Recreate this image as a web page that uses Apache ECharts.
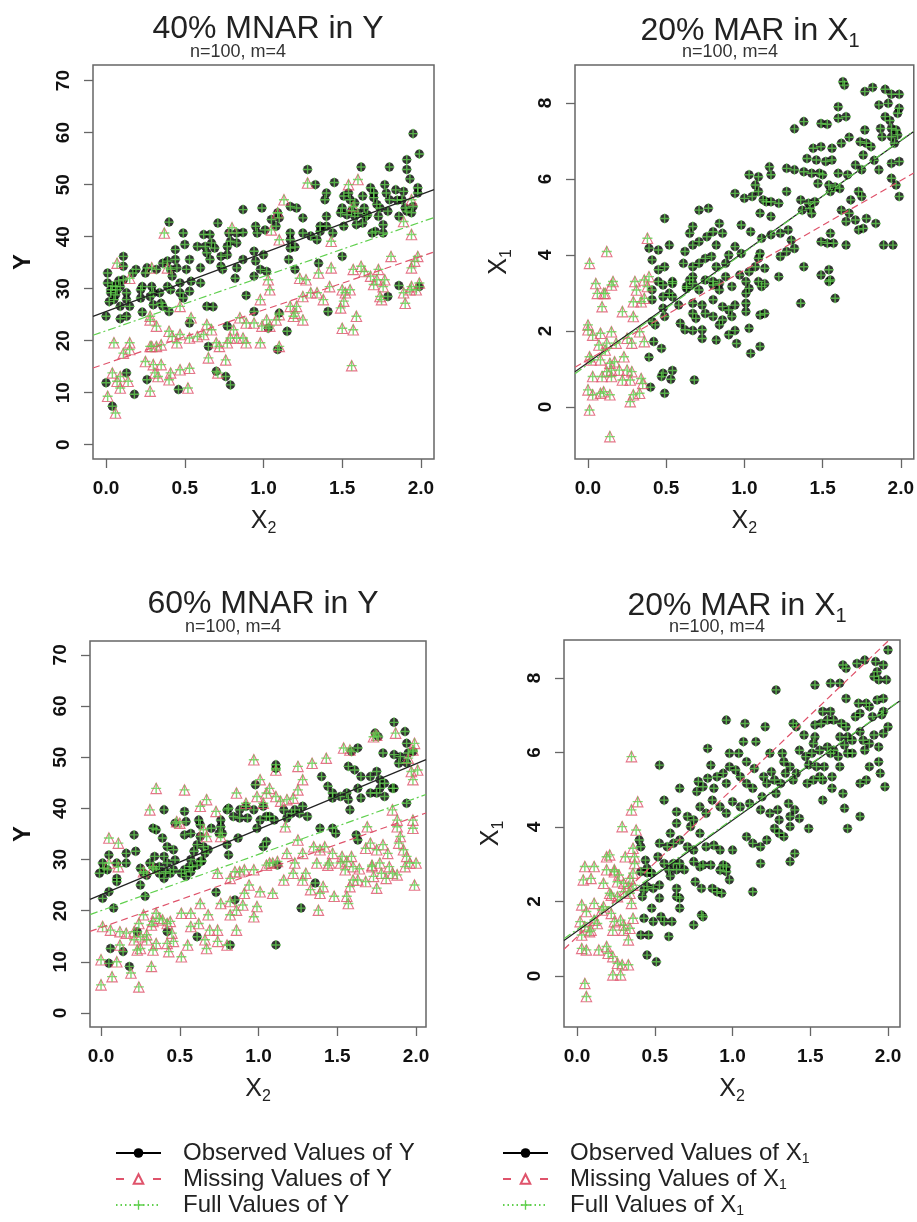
<!DOCTYPE html>
<html><head><meta charset="utf-8">
<script src="https://cdn.jsdelivr.net/npm/echarts@6/dist/echarts.min.js"></script>
<style>html,body{margin:0;padding:0;background:#fff}#c{width:917px;height:1222px}</style>
</head><body><div id="c"></div>
<script>
// ---------------- data ----------------
const panelTitles = ['40% MNAR in Y', '20% MAR in X', '60% MNAR in Y', '20% MAR in X'];
const panelSubtitle = 'n=100, m=4';
const xTicks = [0, 0.5, 1, 1.5, 2];
const yTicksY = [0, 10, 20, 30, 40, 50, 60, 70];
const yTicksX1 = [0, 2, 4, 6, 8];
const legendY = ['Observed Values of Y', 'Missing Values of Y', 'Full Values of Y'];
const legendX1 = ['Observed Values of X1', 'Missing Values of X1', 'Full Values of X1'];

// regression lines [intercept, slope]
const fitObs  = [[25.6, 11.25], [1.17, 2.92], [23.1, 12.8], [1.20, 2.98]];
const fitMis  = [[15.6, 10.3],  [1.24, 2.36], [16.7, 10.85], [1.05, 3.97]];
const fitFull = [[21.9, 10.45], [1.12, 2.95], [20.0, 11.0], [1.25, 2.96]];

const obs1 = [[1.95,59.8],[1.99,55.9],[1.91,54.8],[1.62,53.4],[1.28,52.9],[1.80,53.4],[1.91,52.9],[1.93,51.1],[1.45,50.4],[1.33,50.0],[1.40,48.4],[1.39,47.1],[1.54,48.4],[1.55,47.1],[1.68,49.4],[1.77,50.0],[1.78,48.4],[1.84,49.0],[1.89,48.7],[1.98,49.4],[1.95,45.8],[1.94,44.6],[1.63,47.8],[1.64,45.5],[1.65,43.9],[1.63,42.6],[1.72,46.2],[1.74,45.5],[1.73,43.9],[1.76,42.3],[1.71,41.0],[1.76,40.7],[1.86,43.9],[1.90,45.5],[1.40,43.9],[1.49,44.6],[1.53,44.2],[1.58,43.9],[1.40,42.0],[1.25,43.6],[1.17,45.8],[1.21,45.5],[0.99,45.5],[0.87,45.2],[1.09,44.6],[1.10,43.6],[1.05,43.3],[0.95,42.0],[0.96,40.7],[1.01,41.3],[0.87,40.8],[0.83,40.7],[0.79,39.1],[0.77,38.1],[0.71,42.6],[0.62,40.4],[0.66,40.4],[0.49,40.7],[0.40,42.8],[0.44,37.5],[0.50,38.5],[0.63,38.1],[0.69,37.8],[0.64,36.9],[0.53,35.6],[0.60,34.0],[0.51,33.7],[0.73,36.2],[0.77,36.5],[0.74,33.7],[0.82,32.0],[0.83,34.0],[0.87,35.6],[0.94,37.2],[0.95,35.3],[1.00,36.5],[0.98,33.7],[0.94,32.4],[1.17,39.4],[1.25,40.7],[1.30,40.1],[1.34,39.4],[1.17,37.8],[1.20,33.7],[1.16,35.6],[1.02,33.3],[1.35,34.9],[1.50,36.2],[1.36,41.0],[0.11,36.2],[0.11,34.3],[0.17,33.0],[0.26,34.0],[0.32,33.7],[0.39,35.3],[0.41,33.7],[0.45,34.0],[0.01,33.0],[0.01,31.1],[0.03,29.2],[0.07,29.8],[0.05,27.9],[0.09,30.4],[0.11,31.7],[0.13,29.2],[0.09,26.6],[0.15,26.6],[0.23,30.4],[0.29,30.4],[0.22,28.2],[0.28,28.5],[0.34,29.2],[0.41,29.8],[0.35,27.2],[0.47,31.1],[0.49,28.2],[0.53,29.5],[0.60,31.1],[0.00,24.7],[0.09,24.2],[0.13,24.7],[0.23,25.5],[0.30,26.9],[0.36,26.6],[0.40,25.6],[0.68,26.5],[0.53,23.4],[0.89,28.7],[0.00,11.9],[0.04,7.4],[0.13,13.8],[0.18,9.7],[0.26,12.5],[0.46,10.6],[0.65,18.9],[0.70,14.1],[0.76,13.1],[0.79,11.5],[0.94,25.6],[1.03,22.4],[1.10,25.3],[1.15,21.8],[1.09,18.3],[1.41,25.6],[1.86,30.6],[1.79,28.5],[1.99,30.4],[0.77,22.8],[0.64,26.6],[0.04,30.5],[0.06,28.8],[0.08,31.5],[0.02,27.5],[1.56,45.0],[1.58,46.5],[1.60,44.5],[1.20,38.0],[1.70,47.5],[1.85,47.0],[1.51,47.8],[1.50,45.5],[1.70,48.4],[1.80,47.1],[1.79,44.9],[1.88,47.1],[1.98,48.4],[1.91,44.9],[1.66,44.2],[1.69,40.7],[1.59,42.3],[1.51,42.0],[1.44,40.7],[1.36,42.0],[1.17,40.7],[1.08,42.0],[0.83,38.8],[0.78,40.7],[0.67,38.8],[0.58,38.1],[0.44,35.6],[0.36,34.9],[0.25,33.0],[0.19,33.7],[0.06,30.4],[0.03,29.8],[0.13,27.9],[0.22,29.8],[0.30,29.2],[0.42,32.4],[0.47,29.2],[0.39,30.4],[0.54,31.4],[0.66,35.6],[0.73,34.3]];
const mis1 = [[1.28,50.3],[1.60,51.0],[1.54,50.0],[1.13,47.1],[1.57,45.8],[1.94,47.1],[0.80,41.7],[0.37,40.7],[1.09,44.6],[1.05,41.3],[1.10,39.4],[1.43,39.1],[1.89,42.9],[1.94,40.4],[1.98,36.2],[1.96,35.3],[1.81,36.2],[1.94,34.0],[1.57,33.7],[1.62,34.3],[1.64,33.3],[1.73,33.7],[1.72,31.7],[1.76,30.4],[1.70,30.8],[1.74,28.5],[1.75,27.9],[1.89,29.2],[1.90,27.2],[1.94,30.4],[1.97,29.8],[1.99,31.1],[1.35,33.0],[1.43,34.0],[1.50,22.4],[1.57,22.1],[1.56,15.2],[1.59,24.7],[1.49,26.3],[1.38,27.9],[1.30,29.2],[1.25,28.5],[1.21,26.6],[1.20,25.3],[1.17,26.6],[1.08,24.0],[1.04,22.8],[1.02,24.0],[0.99,22.8],[0.94,23.4],[0.89,23.4],[0.85,24.4],[1.52,29.2],[1.50,29.8],[1.55,29.8],[1.51,27.6],[1.23,32.0],[1.27,31.7],[1.03,31.7],[1.04,29.8],[0.98,27.9],[1.10,25.0],[0.98,19.6],[1.10,18.9],[0.81,22.1],[0.83,20.5],[0.87,20.5],[0.77,19.6],[0.72,18.9],[0.70,19.6],[0.64,23.1],[0.62,21.2],[0.58,20.8],[0.53,20.5],[0.47,21.2],[0.42,20.8],[0.35,19.2],[0.32,18.9],[0.28,18.9],[0.45,19.6],[0.40,21.8],[0.32,22.8],[0.28,24.0],[0.54,24.4],[0.47,26.6],[0.15,32.0],[0.07,34.9],[0.29,34.0],[0.39,34.0],[0.05,19.6],[0.15,19.6],[0.11,17.6],[0.29,18.9],[0.04,13.8],[0.09,13.1],[0.07,12.2],[0.14,12.2],[0.09,10.9],[0.01,9.3],[0.06,6.1],[0.25,16.0],[0.30,15.4],[0.35,15.4],[0.41,13.8],[0.47,14.4],[0.53,14.7],[0.31,13.8],[0.33,13.1],[0.28,10.3],[0.52,10.9],[0.40,12.5],[0.65,16.7],[0.76,16.3],[0.71,13.8],[0.28,24.7],[0.15,18.3],[0.67,22.1],[0.79,20.5],[0.89,19.6],[1.19,24.7],[1.25,24.0],[1.34,29.2],[1.42,30.4],[1.68,32.4],[1.77,31.7],[1.93,29.8]];

const obs2 = [[1.63,8.56],[1.64,8.47],[1.77,8.30],[1.82,8.41],[1.90,8.36],[1.94,8.23],[1.99,8.23],[1.86,7.95],[1.92,7.99],[1.99,7.86],[1.98,7.73],[1.90,7.64],[1.93,7.54],[1.60,7.90],[1.60,7.60],[1.65,7.64],[1.67,7.10],[1.77,7.29],[1.38,7.51],[1.32,7.32],[1.49,7.46],[1.53,7.44],[1.87,7.33],[1.94,7.33],[1.97,7.29],[1.88,7.11],[1.94,7.11],[1.96,6.94],[1.98,7.16],[1.44,6.81],[1.49,6.85],[1.56,6.81],[1.62,6.94],[1.74,6.98],[1.78,6.94],[1.81,6.85],[1.83,6.49],[1.76,6.63],[1.71,6.37],[1.75,6.24],[1.86,6.24],[1.94,6.02],[1.97,5.84],[1.99,5.54],[1.94,6.41],[1.99,6.46],[1.40,6.54],[1.46,6.50],[1.52,6.46],[1.56,6.50],[1.50,6.11],[1.54,5.84],[1.60,6.15],[1.66,6.11],[1.58,5.79],[1.47,5.88],[1.55,5.67],[1.61,5.75],[1.27,6.28],[1.32,6.24],[1.38,6.19],[1.43,6.15],[1.48,6.15],[1.16,6.32],[1.17,6.11],[1.03,6.11],[1.09,6.06],[1.07,5.84],[1.09,5.67],[1.12,5.45],[0.94,5.62],[1.00,5.49],[1.05,5.54],[1.14,5.40],[1.17,5.40],[1.22,5.36],[1.27,5.67],[1.36,5.45],[1.41,5.36],[1.45,5.40],[1.37,5.18],[1.42,5.23],[1.43,5.09],[1.62,5.18],[1.68,5.45],[1.73,5.67],[1.75,5.54],[1.67,5.10],[1.71,4.92],[1.78,4.96],[1.76,4.70],[1.65,4.88],[1.73,4.66],[1.84,4.83],[1.89,4.26],[1.95,4.26],[0.71,5.18],[0.77,5.23],[0.84,4.83],[0.80,4.61],[0.76,4.48],[0.86,4.57],[0.67,4.75],[0.65,4.57],[0.71,4.35],[0.82,4.26],[0.67,4.26],[0.49,4.96],[0.98,4.79],[1.04,4.61],[1.10,5.10],[1.17,5.01],[1.11,4.44],[1.17,4.53],[1.23,4.57],[1.28,4.66],[1.30,4.39],[1.27,4.09],[1.23,3.96],[1.32,4.17],[1.49,4.35],[1.53,4.31],[1.57,4.31],[1.65,4.26],[1.55,4.57],[1.38,3.69],[1.49,3.47],[1.54,3.61],[1.55,3.34],[1.58,2.86],[0.39,4.18],[0.45,4.13],[0.52,4.26],[0.62,4.09],[0.75,3.91],[0.79,3.96],[0.90,4.00],[0.94,4.22],[0.98,4.04],[1.09,3.91],[1.10,4.04],[0.41,3.87],[0.45,3.61],[0.49,3.69],[0.61,3.78],[0.67,3.69],[0.71,3.78],[0.82,3.69],[0.88,3.78],[1.03,3.56],[1.07,3.69],[1.13,3.65],[1.22,3.43],[0.45,3.30],[0.54,3.30],[0.65,3.34],[0.67,3.43],[0.75,3.34],[0.80,3.30],[0.88,3.43],[0.97,3.47],[1.01,3.30],[1.09,3.30],[1.11,3.17],[0.41,3.08],[0.52,2.99],[0.63,3.12],[0.71,3.08],[0.84,3.08],[0.92,3.17],[1.01,2.99],[0.48,3.21],[0.54,3.25],[0.63,3.17],[0.67,3.25],[0.80,3.21],[0.84,3.25],[1.13,3.24],[1.54,3.30],[1.36,2.73],[0.41,2.82],[0.48,2.90],[0.54,2.90],[0.58,2.68],[0.67,2.73],[0.73,2.68],[0.80,2.82],[0.86,2.64],[0.90,2.55],[0.94,2.68],[1.01,2.73],[1.03,3.12],[1.01,2.51],[0.48,2.60],[0.49,2.38],[0.41,2.25],[0.43,2.16],[0.59,2.20],[0.67,2.46],[0.75,2.46],[0.80,2.38],[0.86,2.29],[0.92,2.38],[0.84,2.16],[0.69,2.33],[0.62,2.03],[0.67,2.01],[0.73,2.03],[0.82,1.76],[0.73,1.80],[0.90,1.90],[0.94,2.01],[1.03,2.07],[1.10,2.42],[1.13,2.46],[0.95,1.67],[1.04,1.41],[1.10,1.59],[0.42,1.72],[0.47,1.54],[0.39,1.31],[0.48,0.89],[0.54,0.96],[0.47,0.80],[0.53,0.73],[0.68,0.71],[0.40,0.52],[0.49,0.36]];
const mis2 = [[0.01,3.78],[0.12,4.09],[0.38,4.44],[0.05,3.25],[0.15,3.21],[0.16,3.30],[0.30,3.30],[0.36,3.34],[0.39,3.43],[0.10,2.99],[0.31,3.08],[0.38,3.17],[0.06,2.99],[0.11,2.99],[0.09,2.64],[0.22,2.51],[0.29,2.77],[0.34,2.77],[0.36,2.86],[0.29,2.38],[0.00,2.16],[0.00,2.03],[0.03,1.89],[0.08,1.94],[0.15,1.98],[0.12,1.68],[0.07,1.63],[0.11,1.50],[0.18,1.68],[0.23,1.32],[0.33,1.98],[0.36,1.72],[0.25,1.81],[0.28,1.68],[0.01,1.32],[0.02,1.24],[0.08,1.24],[0.14,1.15],[0.17,1.19],[0.12,0.93],[0.15,0.97],[0.20,0.97],[0.25,0.97],[0.28,0.93],[0.03,0.80],[0.09,0.80],[0.15,0.80],[0.22,0.71],[0.27,0.71],[0.34,0.75],[0.35,0.62],[0.00,0.45],[0.03,0.32],[0.08,0.36],[0.10,0.40],[0.14,0.32],[0.29,0.32],[0.33,0.36],[0.27,0.14],[0.01,-0.08],[0.14,-0.78]];

const obs3 = [[1.86,56.8],[1.93,55.0],[1.94,52.7],[1.74,54.7],[1.76,54.0],[1.79,50.8],[1.86,50.5],[1.90,50.1],[1.95,50.8],[1.98,51.1],[1.89,48.8],[1.94,48.9],[1.59,51.1],[1.63,51.8],[1.57,48.2],[1.61,47.5],[1.65,46.2],[1.71,46.2],[1.75,47.2],[1.77,45.6],[1.80,44.9],[1.77,43.9],[1.80,42.3],[1.85,43.9],[1.75,43.0],[1.71,43.0],[1.63,43.9],[1.65,42.0],[1.40,46.2],[1.44,44.3],[1.47,43.0],[1.47,42.0],[1.56,43.0],[1.57,41.7],[1.58,39.7],[1.52,42.3],[1.94,41.0],[1.86,43.9],[1.62,34.8],[1.63,33.8],[1.47,36.1],[1.49,35.1],[1.39,36.1],[1.11,48.5],[1.11,47.8],[1.28,40.4],[1.26,39.0],[1.21,39.0],[1.16,39.7],[1.18,38.1],[1.23,39.7],[1.31,38.4],[1.10,37.7],[1.07,38.4],[0.98,44.6],[0.92,40.4],[0.97,39.7],[1.03,40.4],[1.05,38.4],[1.01,37.7],[0.99,36.1],[0.93,38.1],[0.88,38.1],[0.88,39.7],[1.05,33.5],[1.03,32.5],[0.80,39.7],[0.84,38.4],[0.87,34.2],[0.81,40.0],[0.76,37.7],[0.76,36.4],[0.75,35.1],[0.77,35.1],[0.80,32.9],[0.81,30.9],[0.70,36.1],[0.62,37.7],[0.63,36.8],[0.54,37.4],[0.57,35.1],[0.61,32.9],[0.63,34.5],[0.65,32.5],[0.66,31.2],[0.68,31.9],[0.59,31.6],[0.57,30.0],[0.64,29.7],[0.58,28.6],[0.53,28.0],[0.54,26.7],[0.51,27.3],[0.46,31.9],[0.47,29.9],[0.53,34.8],[0.53,39.4],[0.47,37.1],[0.40,39.7],[0.33,36.1],[0.35,35.8],[0.39,34.2],[0.42,32.5],[0.40,30.6],[0.34,30.6],[0.31,29.3],[0.42,29.3],[0.35,28.0],[0.37,27.3],[0.44,27.3],[0.46,28.0],[0.40,26.3],[0.21,34.8],[0.16,31.2],[0.22,31.6],[0.10,29.3],[0.05,30.9],[0.01,29.3],[0.04,28.0],[-0.01,27.3],[0.02,28.3],[0.16,29.3],[0.10,26.3],[0.10,25.7],[0.25,28.3],[0.27,27.3],[0.29,26.9],[0.33,28.6],[0.37,28.6],[0.41,27.6],[0.56,28.6],[0.57,27.6],[0.61,28.9],[0.63,29.6],[0.01,22.4],[0.05,23.7],[0.08,20.5],[0.25,25.0],[0.28,22.8],[0.85,22.1],[0.73,23.6],[1.12,28.9],[1.36,25.4],[1.11,13.3],[1.27,20.5],[0.23,15.9],[0.42,15.9],[0.61,14.9],[0.82,13.3],[0.14,12.0],[0.06,12.6],[0.05,9.7],[0.18,9.1]];
const mis3 = [[1.87,54.7],[1.75,54.3],[1.73,54.0],[1.54,51.8],[1.58,51.4],[0.97,49.5],[1.11,47.5],[1.34,48.8],[1.43,49.8],[1.99,52.7],[1.98,51.4],[1.95,49.8],[1.97,47.2],[1.98,45.6],[2.01,47.5],[0.35,43.9],[0.53,43.6],[0.67,41.7],[0.31,39.7],[0.48,37.4],[0.50,37.1],[0.63,40.4],[0.73,39.4],[0.65,35.8],[0.67,34.5],[0.76,34.5],[0.05,34.2],[0.11,33.2],[0.11,28.6],[0.05,29.3],[0.86,43.0],[0.92,41.0],[1.03,41.0],[1.05,43.0],[0.99,42.3],[1.01,45.6],[1.07,43.9],[1.11,42.3],[1.14,41.4],[1.18,41.7],[1.25,43.6],[1.22,42.0],[1.28,45.6],[1.17,36.4],[1.25,33.8],[1.18,31.2],[1.28,31.2],[1.35,32.5],[1.39,31.9],[1.42,32.5],[1.47,31.2],[1.45,29.3],[1.53,30.6],[1.56,29.6],[1.59,30.6],[1.60,28.6],[1.55,28.0],[1.64,28.2],[1.69,36.4],[1.71,33.2],[1.68,32.2],[1.75,31.9],[1.79,32.9],[1.82,31.2],[1.85,39.7],[1.88,37.7],[1.88,36.4],[1.90,34.5],[1.89,33.2],[1.92,31.9],[1.94,30.6],[1.98,37.7],[1.98,36.1],[2.00,29.3],[1.96,29.3],[1.93,28.6],[1.83,28.6],[1.77,29.3],[1.72,28.6],[1.25,48.2],[0.88,27.6],[0.97,28.0],[1.05,28.9],[1.09,29.3],[0.82,26.3],[0.27,27.6],[0.33,28.3],[0.74,27.3],[0.85,27.6],[0.91,28.0],[1.07,29.3],[1.12,29.6],[1.23,29.3],[1.30,27.3],[1.37,29.3],[1.44,28.9],[1.52,29.3],[1.60,26.0],[1.63,26.0],[1.68,25.7],[1.72,28.9],[1.73,26.7],[1.78,27.3],[1.81,26.3],[1.85,27.3],[1.88,27.0],[1.99,25.0],[1.75,24.4],[1.58,24.7],[1.48,22.8],[1.41,24.7],[1.33,24.1],[1.39,23.4],[1.28,26.0],[1.22,27.3],[1.16,26.0],[1.09,23.4],[1.01,23.7],[0.94,25.0],[0.99,20.8],[0.90,21.1],[0.82,21.8],[0.76,21.4],[0.82,19.2],[0.86,20.1],[0.86,16.2],[0.97,18.8],[0.91,23.4],[1.57,21.4],[1.56,22.8],[1.38,20.1],[0.01,16.9],[0.06,16.2],[0.12,15.9],[0.16,15.6],[0.21,15.9],[0.25,14.9],[0.29,15.3],[0.33,17.9],[0.37,18.5],[0.42,17.5],[0.27,19.2],[0.35,19.5],[0.24,17.5],[0.32,17.2],[0.44,17.9],[0.51,19.5],[0.57,16.9],[0.62,17.5],[0.63,21.4],[0.57,19.5],[0.69,16.2],[0.66,14.3],[0.55,13.3],[0.67,12.6],[0.74,14.0],[0.80,13.3],[0.68,19.2],[0.74,16.2],[0.42,13.6],[0.46,14.0],[0.43,12.0],[0.33,12.3],[0.25,12.6],[0.23,12.3],[0.21,14.3],[0.29,14.3],[0.12,13.3],[0.10,10.0],[0.00,10.4],[0.00,5.5],[0.07,7.1],[0.19,7.8],[0.24,5.1],[0.32,9.1],[0.51,11.0],[0.35,13.6],[0.39,18.2],[0.45,15.6]];

const obs4 = [[2.00,8.75],[1.71,8.35],[1.73,8.26],[1.80,8.39],[1.85,8.48],[1.92,8.44],[1.93,8.17],[1.97,8.35],[1.91,8.04],[1.94,7.95],[1.99,7.95],[1.53,7.81],[1.63,7.86],[1.69,7.86],[1.28,7.68],[1.73,7.45],[1.81,7.32],[1.86,7.32],[1.93,7.41],[1.97,7.45],[1.97,7.10],[1.88,7.23],[1.82,7.05],[1.90,6.96],[1.96,7.01],[1.79,6.96],[2.00,6.69],[1.97,6.51],[1.91,6.47],[1.58,7.10],[1.63,7.10],[1.65,6.87],[1.70,6.78],[1.73,6.69],[1.74,6.42],[1.69,6.42],[1.72,6.20],[1.77,6.33],[1.84,6.33],[1.88,6.24],[1.94,6.15],[1.82,6.56],[1.77,5.98],[1.85,6.06],[1.94,5.75],[1.88,5.62],[1.95,5.44],[1.98,5.08],[1.86,5.26],[1.82,5.17],[1.74,5.98],[1.68,5.89],[1.63,5.98],[1.69,5.62],[1.64,5.35],[1.59,5.62],[1.58,5.26],[1.64,5.04],[1.58,4.72],[1.71,4.90],[1.74,3.96],[1.82,4.28],[1.72,4.50],[1.39,6.78],[1.41,6.69],[1.46,6.47],[1.53,6.74],[1.57,6.78],[1.61,6.87],[1.53,6.42],[1.52,6.24],[1.56,6.06],[1.61,6.15],[1.65,6.06],[1.51,5.98],[1.43,6.06],[1.47,5.89],[1.49,5.67],[1.54,5.62],[1.56,5.35],[1.52,5.26],[1.48,5.17],[1.41,5.44],[1.39,5.26],[1.37,5.62],[1.32,5.98],[1.33,5.75],[1.34,5.44],[1.31,5.17],[0.96,6.87],[1.08,6.78],[1.21,6.69],[0.84,6.11],[1.07,6.29],[1.15,6.29],[0.98,5.98],[1.04,5.98],[1.09,5.75],[1.14,5.57],[1.24,5.98],[1.20,5.35],[1.22,5.17],[1.25,5.48],[1.27,5.26],[1.28,4.90],[1.19,4.81],[1.13,5.04],[1.09,5.17],[1.05,5.35],[1.02,5.53],[0.98,5.62],[0.94,5.44],[0.90,5.35],[0.96,5.17],[0.86,5.66],[0.84,5.31],[0.88,5.04],[0.81,5.08],[0.78,5.22],[0.77,4.95],[0.66,5.04],[0.53,5.66],[0.56,4.72],[0.79,4.54],[0.83,4.37],[0.87,4.72],[0.92,4.54],[0.96,4.37],[1.00,4.68],[1.05,4.54],[1.11,4.63],[1.18,4.46],[1.24,4.37],[1.29,4.46],[1.36,4.63],[1.40,4.46],[1.37,4.28],[1.30,4.19],[1.27,3.96],[1.43,4.23],[1.49,3.96],[1.37,4.01],[1.33,3.74],[0.64,4.41],[0.71,4.28],[0.75,4.19],[0.73,4.01],[0.79,3.83],[0.64,4.10],[0.60,3.83],[0.53,3.56],[0.58,3.47],[0.62,3.56],[0.66,3.65],[0.71,3.47],[0.75,3.38],[0.83,3.47],[0.88,3.51],[0.92,3.38],[1.00,3.38],[1.09,3.74],[1.13,3.56],[1.18,3.47],[1.18,3.02],[1.37,3.07],[1.40,3.29],[1.22,3.65],[1.30,3.83],[0.40,3.65],[0.41,3.47],[0.44,3.11],[0.52,3.20],[0.56,3.02],[0.62,3.02],[0.66,3.02],[0.75,3.07],[0.79,2.93],[0.86,2.98],[0.92,2.84],[0.96,2.93],[0.60,2.68],[0.45,2.77],[0.41,2.80],[0.45,2.89],[0.48,2.76],[0.59,2.85],[0.64,2.85],[0.69,2.85],[0.81,2.98],[0.94,2.98],[0.96,2.80],[0.98,2.58],[0.45,2.40],[0.43,2.31],[0.49,2.35],[0.53,2.44],[0.64,2.35],[0.64,2.13],[0.66,2.09],[0.76,2.53],[0.80,2.35],[0.87,2.35],[0.90,2.26],[0.93,2.22],[0.48,1.82],[0.53,2.09],[0.42,2.13],[0.43,1.55],[0.49,1.46],[0.54,1.59],[0.56,1.46],[0.61,1.46],[0.66,1.82],[0.81,1.59],[0.80,1.64],[0.75,1.37],[0.41,1.10],[0.46,1.10],[0.59,1.06],[1.13,2.26],[0.45,0.56],[0.51,0.38]];
const mis4 = [[0.35,5.89],[0.39,4.68],[0.35,4.46],[0.29,4.01],[0.38,3.92],[0.36,3.43],[0.31,3.20],[0.37,3.20],[0.37,3.02],[0.21,3.25],[0.19,3.20],[0.05,2.94],[0.11,2.94],[0.19,2.85],[0.24,2.85],[0.24,2.80],[0.27,2.71],[0.04,2.58],[0.09,2.62],[0.17,2.49],[0.26,2.53],[0.30,2.49],[0.34,2.62],[0.36,2.76],[0.33,2.40],[0.36,2.44],[0.30,2.26],[0.21,2.22],[0.26,2.13],[0.22,2.17],[0.34,2.22],[0.35,1.95],[0.03,1.91],[0.11,1.95],[0.16,1.77],[0.17,1.86],[0.06,1.73],[0.02,1.46],[0.05,1.32],[0.11,1.50],[0.13,1.41],[0.09,1.23],[0.22,1.68],[0.24,1.46],[0.28,1.50],[0.30,1.37],[0.36,1.55],[0.23,1.23],[0.30,1.23],[0.34,1.28],[0.03,1.10],[0.08,1.19],[0.33,0.97],[0.03,0.74],[0.06,0.70],[0.14,0.70],[0.19,0.79],[0.20,0.61],[0.23,0.52],[0.26,0.34],[0.29,0.30],[0.33,0.30],[0.23,0.03],[0.28,0.03],[0.05,-0.20],[0.06,-0.55]];

const observed = [obs1, obs2, obs3, obs4];
const missing = [mis1, mis2, mis3, mis4];

// ---------------- layout & style ----------------
const FONT = "'Liberation Sans', Arial, sans-serif";
const C_OBS = '#000000', C_MIS = '#DF536B', C_FULL = '#61D04F', C_BOX = '#666666';
const PLUS = 'path://M4.3,0H5.7V4.3H10V5.7H5.7V10H4.3V5.7H0V4.3H4.3Z';

const grids = [
  {left: 93, top: 65, width: 341, height: 394},
  {left: 575, top: 65, width: 341, height: 394},
  {left: 90, top: 641, width: 336, height: 386},
  {left: 564, top: 640, width: 336, height: 387}
];
const xRange = [[-0.083, 2.083], [-0.083, 2.083], [-0.07, 2.063], [-0.084, 2.077]];
const yRange = [[-2.75, 73.0], [-1.37, 9.0], [-2.74, 72.7], [-1.37, 9.02]];
const titleCx = [263, 745, 258, 732], titleTop = [8, 6, 583, 581];
const subCx = [233, 725, 228, 712], subTop = [38, 38, 613, 613];
const yNameGap = [58, 60, 55, 57];

const subRich = (big, bold) => ({
  a: {fontSize: big, fontFamily: FONT, color: '#222', lineHeight: Math.round(big * 1.25), fontWeight: bold ? 'bold' : 'normal'},
  b: {fontSize: Math.round(big * 0.62), fontFamily: FONT, color: '#222', lineHeight: Math.round(big * 0.62), verticalAlign: 'bottom'}
});

const titles = [];
panelTitles.forEach((t, i) => {
  const isX = i % 2 === 1;
  titles.push({
    text: isX ? '{a|' + t + '}{b|1}' : t,
    left: titleCx[i], top: titleTop[i], textAlign: 'center',
    textStyle: {fontSize: 32, fontWeight: 'normal', fontFamily: FONT, color: '#222', rich: subRich(32)}
  });
  titles.push({
    text: panelSubtitle, left: subCx[i], top: subTop[i], textAlign: 'center',
    textStyle: {fontSize: 18, fontWeight: 'normal', fontFamily: FONT, color: '#333'}
  });
});

const xAxes = [], yAxes = [], series = [];
grids.forEach((g, i) => {
  const isX = i % 2 === 1;
  xAxes.push({
    type: 'value', gridIndex: i, min: xRange[i][0], max: xRange[i][1],
    name: '{a|X}{b|2}', nameLocation: 'middle', nameGap: 47,
    nameTextStyle: {rich: subRich(25)},
    axisLine: {show: false, onZero: false},
    splitLine: {show: false},
    axisTick: {show: true, length: 9, customValues: xTicks, lineStyle: {color: C_BOX, width: 1.3}},
    axisLabel: {customValues: xTicks, formatter: v => v.toFixed(1), fontSize: 19, fontWeight: 'bold', fontFamily: FONT, color: '#111', margin: 20}
  });
  yAxes.push({
    type: 'value', gridIndex: i, min: yRange[i][0], max: yRange[i][1],
    name: isX ? '{a|X}{b|1}' : 'Y', nameLocation: 'middle', nameGap: yNameGap[i],
    nameTextStyle: isX ? {rich: subRich(25)} : {fontSize: 24, fontWeight: 'bold', fontFamily: FONT, color: '#111'},
    axisLine: {show: false, onZero: false},
    splitLine: {show: false},
    axisTick: {show: true, length: 9, customValues: isX ? yTicksX1 : yTicksY, lineStyle: {color: C_BOX, width: 1.3}},
    axisLabel: {customValues: isX ? yTicksX1 : yTicksY, rotate: 90, fontSize: 19, fontWeight: 'bold', fontFamily: FONT, color: '#111', margin: 20}
  });

  series.push({
    type: 'scatter', xAxisIndex: i, yAxisIndex: i, data: observed[i],
    symbol: 'circle', symbolSize: 9, itemStyle: {color: C_OBS}, z: 2, silent: true
  });
  series.push({
    type: 'scatter', xAxisIndex: i, yAxisIndex: i, data: missing[i],
    symbol: 'triangle', symbolSize: 10.5,
    itemStyle: {color: 'rgba(0,0,0,0)', borderColor: C_MIS, borderWidth: 1.1}, z: 3, silent: true
  });
  series.push({
    type: 'scatter', xAxisIndex: i, yAxisIndex: i, data: observed[i].concat(missing[i]),
    symbol: PLUS, symbolSize: 10, itemStyle: {color: C_FULL}, z: 4, silent: true
  });
  const x0 = xRange[i][0], x1 = xRange[i][1];
  const mk = (f) => [[x0, f[0] + f[1] * x0], [x1, f[0] + f[1] * x1]];
  series.push({type: 'line', xAxisIndex: i, yAxisIndex: i, data: mk(fitObs[i]), showSymbol: false, clip: true, silent: true, z: 5,
    lineStyle: {color: '#222', width: 1.2}});
  series.push({type: 'line', xAxisIndex: i, yAxisIndex: i, data: mk(fitMis[i]), showSymbol: false, clip: true, silent: true, z: 5,
    lineStyle: {color: C_MIS, width: 1.2, type: [7, 4]}});
  series.push({type: 'line', xAxisIndex: i, yAxisIndex: i, data: mk(fitFull[i]), showSymbol: false, clip: true, silent: true, z: 5,
    lineStyle: {color: C_FULL, width: 1.2, type: [8, 3, 2, 3]}});
});

// legend-only series
const legendStyles = [
  {symbol: 'circle', itemStyle: {color: C_OBS}, lineStyle: {color: C_OBS, width: 1.6}},
  {symbol: 'triangle', itemStyle: {color: 'rgba(0,0,0,0)', borderColor: C_MIS, borderWidth: 1.3}, lineStyle: {color: C_MIS, width: 1.3, type: [8, 29]}},
  {symbol: PLUS, itemStyle: {color: C_FULL}, lineStyle: {color: C_FULL, width: 1.3, type: [1.5, 3]}}
];
[legendY, legendX1].forEach(names => names.forEach((n, k) => {
  series.push(Object.assign({type: 'line', name: n, data: [], xAxisIndex: 0, yAxisIndex: 0}, legendStyles[k]));
}));

const legendText = {fontSize: 24, fontFamily: FONT, color: '#222', lineHeight: 26, padding: [0, 0, 0, 17]};
const legendCommon = {top: 1140, orient: 'vertical', itemWidth: 45, itemHeight: 12, itemGap: 0, padding: 0,
  height: 140, width: 360, selectedMode: false};
const option = {
  animation: false,
  backgroundColor: '#fff',
  title: titles,
  grid: grids.map(g => Object.assign({show: true, borderColor: C_BOX, borderWidth: 1.5, backgroundColor: 'rgba(0,0,0,0)'}, g)),
  xAxis: xAxes,
  yAxis: yAxes,
  legend: [
    Object.assign({data: legendY, left: 115, textStyle: legendText}, legendCommon),
    Object.assign({data: legendX1, left: 502,
      formatter: n => '{t|' + n.slice(0, -1) + '}{s|1}',
      textStyle: Object.assign({}, legendText, {rich: {
        t: {fontSize: 24, fontFamily: FONT, color: '#222', lineHeight: 26},
        s: {fontSize: 14, fontFamily: FONT, color: '#222', lineHeight: 14, verticalAlign: 'bottom'}
      }})}, legendCommon)
  ],
  series: series
};
const chart = echarts.init(document.getElementById('c'), null, {renderer: 'canvas'});
chart.setOption(option);
</script>
</body></html>
